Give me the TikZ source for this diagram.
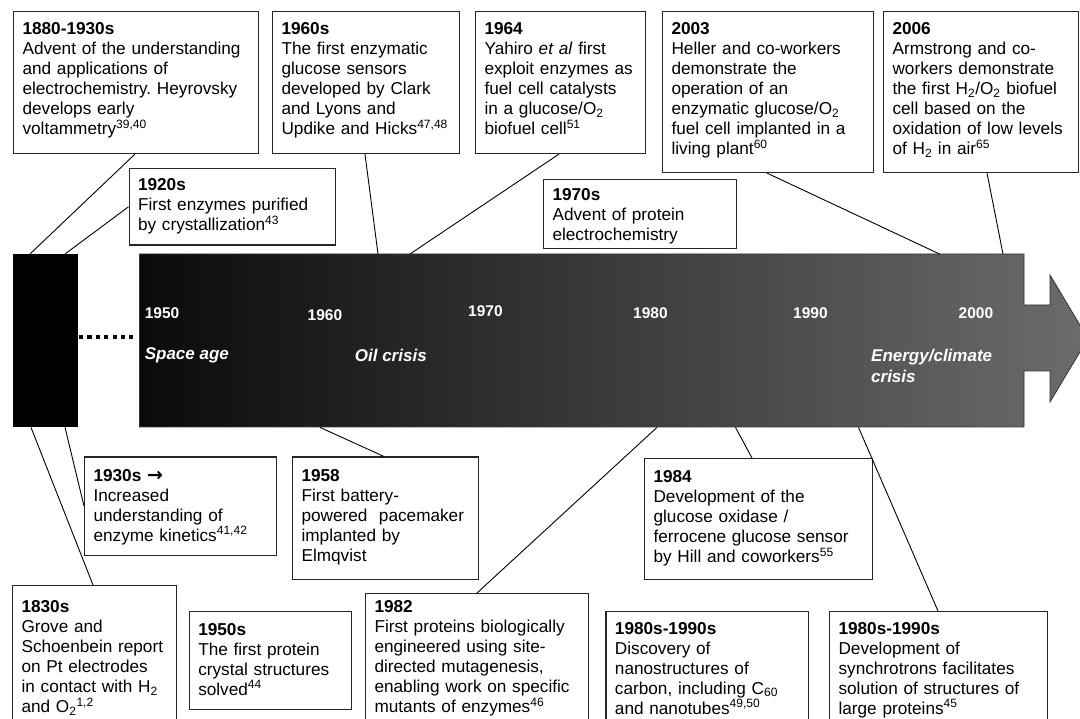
\documentclass[tikz,border=0pt]{standalone}
\usepackage{fontspec}
\setmainfont{Liberation Sans}
\newfontfamily\arrowfont{DejaVu Sans}
\definecolor{barL}{HTML}{0A0A0A}
\definecolor{barR}{HTML}{6C6C6C}
\definecolor{barEdge}{HTML}{333333}
\definecolor{edgeC}{HTML}{262626}
\begin{document}
\frenchspacing
\begin{tikzpicture}[x=1pt,y=-1pt,
  evt/.style={draw=edgeC, line width=1.1pt, fill=white, anchor=north west,
    inner xsep=9pt, inner ysep=0pt, align=left,
    font=\fontsize{17.2}{20}\selectfont},
  link/.style={draw=black, line width=0.9pt},
  yr/.style={text=white, font=\bfseries\fontsize{15.5}{18}\selectfont, anchor=west, inner sep=0pt},
  era/.style={text=white, font=\bfseries\itshape\fontsize{17}{21}\selectfont, anchor=west, inner sep=0pt, align=left},
]
\path[use as bounding box] (0,0) rectangle (1080,719);
\clip (0,0) rectangle (1080,719);

% ---------- timeline ----------
\node[fill=black, inner sep=0pt, minimum width=65pt, minimum height=173pt, anchor=north west] (blk) at (13,254) {};
\node[inner sep=0pt, minimum width=884.5pt, minimum height=173pt, anchor=north west] (bar) at (139.5,254) {};
\shadedraw[left color=barL, right color=barR, draw=barEdge, line width=0.8pt]
  (139.5,254) -- (1024,254) -- (1024,305) -- (1050,305) -- (1050,275) -- (1088,338.5)
  -- (1050,402) -- (1050,371) -- (1024,371) -- (1024,427) -- (139.5,427) -- cycle;
\draw[line width=4.2pt, dash pattern=on 4.2pt off 4.2pt]
  ([xshift=0.5pt,yshift=3.5pt]blk.east) -- ([xshift=-6.5pt,yshift=3.5pt]bar.west);

\node[yr] (y1950) at (144.6,313) {1950};
\node[yr] (y1960) at (307.5,315) {1960};
\node[yr] (y1970) at (468,311) {1970};
\node[yr] (y1980) at (633,313) {1980};
\node[yr] (y1990) at (793,313) {1990};
\node[yr] (y2000) at (958.5,313) {2000};
\node[era] (espace) at (144.6,355) {Space age};
\node[era] (eoil) at (354.7,355) {Oil crisis};
\node[era] (eclim) at (871,366) {Energy/climate\\crisis};

% ---------- upper events ----------
\node[evt, minimum width=245pt, text width=227pt, text height=23pt, text depth=119pt] (b1880) at (13,11)
  {\textbf{1880-1930s}\\Advent of the understanding\\and applications of\\electrochemistry. Heyrovsky\\develops early\\voltammetry\textsuperscript{39,40}};
\node[evt, minimum width=187pt, text width=169pt, text height=23pt, text depth=119pt] (b1960) at (272,11)
  {\textbf{1960s}\\The first enzymatic\\glucose sensors\\developed by Clark\\and Lyons and\\Updike and Hicks\textsuperscript{47,48}};
\node[evt, minimum width=170pt, text width=152pt, text height=23pt, text depth=119pt] (b1964) at (475,11)
  {\textbf{1964}\\Yahiro \textit{et al} first\\exploit enzymes as\\fuel cell catalysts\\in a glucose/O\textsubscript{2}\\biofuel cell\textsuperscript{51}};
\node[evt, minimum width=211pt, text width=193pt, text height=23pt, text depth=138pt] (b2003) at (662,11)
  {\textbf{2003}\\Heller and co-workers\\demonstrate the\\operation of an\\enzymatic glucose/O\textsubscript{2}\\fuel cell implanted in a\\living plant\textsuperscript{60}};
\node[evt, minimum width=195pt, text width=177pt, text height=23pt, text depth=138pt] (b2006) at (883,11)
  {\textbf{2006}\\Armstrong and co-\\workers demonstrate\\the first H\textsubscript{2}/O\textsubscript{2} biofuel\\cell based on the\\oxidation of low levels\\of H\textsubscript{2} in air\textsuperscript{65}};
\node[evt, minimum width=206.5pt, text width=188.5pt, text height=22pt, text depth=54.5pt] (b1920) at (128.5,168)
  {\textbf{1920s}\\First enzymes purified\\by crystallization\textsuperscript{43}};
\node[evt, minimum width=193pt, text width=175pt, text height=20.5pt, text depth=48.5pt] (b1970) at (543,179)
  {\textbf{1970s}\\Advent of protein\\electrochemistry};

% ---------- lower events ----------
\node[evt, minimum width=191.5pt, text width=173.5pt, text height=24pt, text depth=74pt] (b1930) at (84,456.5)
  {\textbf{1930s {\arrowfont\bfseries\fontsize{19}{20}\selectfont →}}\\Increased\\understanding of\\enzyme kinetics\textsuperscript{41,42}};
\node[evt, minimum width=186pt, text width=168pt, text height=24pt, text depth=98pt] (b1958) at (292,456.5)
  {\textbf{1958}\\First battery-\\powered\ \ pacemaker\\implanted by\\Elmqvist};
\node[evt, minimum width=228pt, text width=210pt, text height=24pt, text depth=96.5pt] (b1984) at (644,458)
  {\textbf{1984}\\Development of the\\glucose oxidase /\\ferrocene glucose sensor\\by Hill and coworkers\textsuperscript{55}};
\node[evt, minimum width=164pt, text width=146pt, text height=27pt, text depth=113pt] (b1830) at (12,585)
  {\textbf{1830s}\\Grove and\\Schoenbein report\\on Pt electrodes\\in contact with H\textsubscript{2}\\and O\textsubscript{2}\textsuperscript{1,2}};
\node[evt, minimum width=162.3pt, text width=144.3pt, text height=24pt, text depth=74pt] (b1950) at (188.7,610.5)
  {\textbf{1950s}\\The first protein\\crystal structures\\solved\textsuperscript{44}};
\node[evt, minimum width=222.7pt, text width=204.7pt, text height=19pt, text depth=122pt] (b1982) at (365,593)
  {\textbf{1982}\\First proteins biologically\\engineered using site-\\directed mutagenesis,\\enabling work on specific\\mutants of enzymes\textsuperscript{46}};
\node[evt, minimum width=202.6pt, text width=184.6pt, text height=22.5pt, text depth=98pt] (bcarb) at (605.4,611)
  {\textbf{1980s-1990s}\\Discovery of\\nanostructures of\\carbon, including C\textsubscript{60}\\and nanotubes\textsuperscript{49,50}};
\node[evt, minimum width=218pt, text width=200pt, text height=22.5pt, text depth=98pt] (bsync) at (829,611)
  {\textbf{1980s-1990s}\\Development of\\synchrotrons facilitates\\solution of structures of\\large proteins\textsuperscript{45}};

% ---------- connectors ----------
\draw[link] ([xshift=122pt]b1880.south west) -- ([xshift=17pt]blk.north west);
\draw[link] (b1920.west) -- ([xshift=52pt]blk.north west);
\draw[link] ([xshift=93pt]b1960.south west) -- ([xshift=238.5pt]bar.north west);
\draw[link] ([xshift=84pt]b1964.south west) -- ([xshift=270.5pt]bar.north west);
\draw[link] ([xshift=105pt]b2003.south west) -- ([xshift=800pt]bar.north west);
\draw[link] ([xshift=104pt]b2006.south west) -- ([xshift=863.5pt]bar.north west);
\draw[link] ([xshift=18pt]blk.south west) -- ([xshift=81pt]b1830.north west);
\draw[link] ([xshift=52pt]blk.south west) -- (b1930.west);
\draw[link] ([xshift=180.5pt]bar.south west) -- ([xshift=92pt]b1958.north west);
\draw[link] ([xshift=517.5pt]bar.south west) -- ([xshift=112pt]b1982.north west);
\draw[link] ([xshift=596pt]bar.south west) -- ([xshift=108pt]b1984.north west);
\draw[link] ([xshift=719pt]bar.south west) -- ([xshift=109pt]bsync.north west);
\end{tikzpicture}
\end{document}
